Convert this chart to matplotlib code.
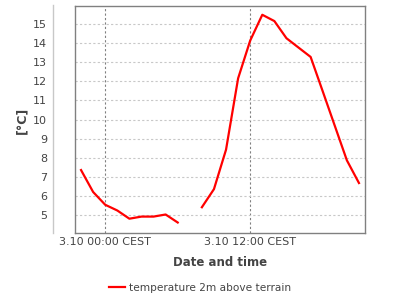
# Температура 2 м над поверхностью, 3.10
import numpy as np
import matplotlib.pyplot as plt
from matplotlib.lines import Line2D

hours = [-2, -1, 0, 1, 2, 3, 4, 5, 6, 7, 8, 9, 10, 11, 12, 13, 14, 15, 16, 17, 18, 19, 20, 21]
temperature = [7.35, 6.2, 5.53, 5.23, 4.8, 4.91, 4.91, 5.02, 4.6, np.nan, 5.4, 6.35, 8.42, 12.16,
               14.14, 15.49, 15.16, 14.26, 13.77, 13.28, 11.48, 9.67, 7.86, 6.67]
tick_hours = [0, 12]
tick_labels = ['3.10 00:00 CEST', '3.10 12:00 CEST']
y_ticks = list(range(5, 16))

text_color = '#444444'

fig = plt.figure(figsize=(4, 3), dpi=100)
ax = fig.add_axes([75 / 400, 67 / 300, 290 / 400, 227 / 300])

ax.plot(hours, temperature, color='#ff0000', linewidth=1.6, label='temperature 2m above terrain')

ax.set_xlim(-2.5, 21.5)
ax.set_ylim(4.05, 15.95)
ax.set_yticks(y_ticks)
ax.set_xticks(tick_hours)
ax.set_xticklabels(tick_labels)

ax.grid(axis='y', color='#c8c8c8', linestyle=(0, (2, 2)), linewidth=0.8)
ax.grid(axis='x', color='#808080', linestyle=(0, (2, 2)), linewidth=0.8)

for spine in ax.spines.values():
    spine.set_color('#808080')
    spine.set_linewidth(1.0)

# pad в пунктах: 28 px и 4 px при 100 dpi
ax.tick_params(axis='y', length=0, pad=20, labelsize=8, labelcolor=text_color)
ax.tick_params(axis='x', length=0, pad=3, labelsize=8, labelcolor=text_color)

# отдельная ось слева от области графика
ax.add_line(Line2D([-22 / 290, -22 / 290], [0, 1.005], transform=ax.transAxes,
                   color='#c8c8c8', linewidth=1.0, clip_on=False))

fig.text(22 / 400, 1 - 120 / 300, '[°C]', rotation=90, ha='center', va='center',
         fontsize=9, fontweight='bold', color=text_color)
fig.text(220 / 400, 1 - 262 / 300, 'Date and time', ha='center', va='center',
         fontsize=8.5, fontweight='bold', color=text_color)

fig.legend(loc='center', bbox_to_anchor=(200 / 400, 1 - 288 / 300), frameon=False,
           fontsize=7.6, labelcolor=text_color, handlelength=1.5, handletextpad=0.4)

fig.savefig('out.png', dpi=100)
